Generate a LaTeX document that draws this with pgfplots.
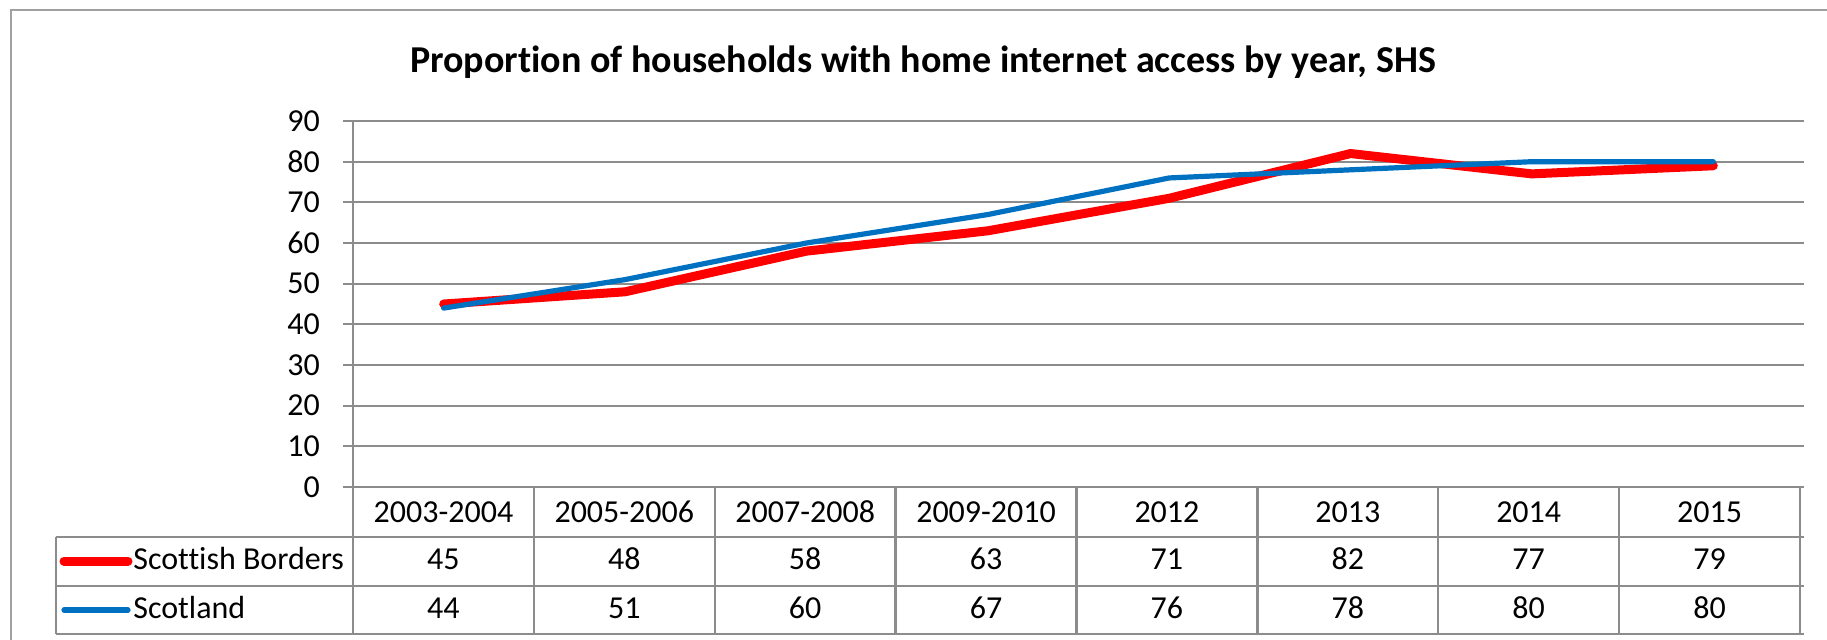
\documentclass[border=0pt]{standalone}
\usepackage{fontspec}
\setmainfont{Carlito}[Ligatures=NoCommon]
\usepackage{pgfplots}
\pgfplotsset{compat=1.18}
\definecolor{sbred}{HTML}{FF0000}
\definecolor{scblue}{HTML}{0070C0}
\definecolor{gridgray}{HTML}{8C8C8C}
\definecolor{framegray}{HTML}{A0A0A0}
\newcommand{\tabsize}{\fontsize{16}{19}\selectfont}

\begin{document}
\begin{tikzpicture}
\useasboundingbox (0,0) rectangle (913.5pt,319.5pt);
\begin{axis}[
  at={(176.5pt,76pt)}, anchor=south west,
  scale only axis, width=725.5pt, height=183pt,
  xmin=-0.5, xmax=7.5, ymin=0, ymax=90,
  ytick={0,10,...,90}, xtick=\empty,
  axis y line=left, axis x line=bottom,
  axis line style={gridgray, line width=1.2pt, -},
  ymajorgrids, grid style={gridgray, line width=1pt},
  y tick style={gridgray, line width=1pt},
  tick align=outside, major tick length=5pt,
  yticklabel style={font=\tabsize, xshift=-8pt},
  /pgf/number format/assume math mode=true,
  clip=false]
\addplot[sbred, line width=4.5pt, line join=round, line cap=round]
  coordinates {(0,45)(1,48)(2,58)(3,63)(4,71)(5,82)(6,77)(7,79)};
\addplot[scblue, line width=2.6pt, line join=round, line cap=round]
  coordinates {(0,44)(1,51)(2,60)(3,67)(4,76)(5,78)(6,80)(7,80)};
\end{axis}
\begin{scope}[x=0.5pt,y=-0.5pt,yshift=319.5pt]
  % outer frame
  \draw[framegray, line width=1pt] (11,10) rectangle (1840,660);
  % title
  \node[font=\bfseries\fontsize{19}{22}\selectfont, anchor=base, inner sep=0pt] at (923,72)
    {Proportion of households with home internet access by year, SHS};
  % table grid
  \foreach \k in {0,...,8} {
    \draw[gridgray, line width=1.2pt] ({353+180.875*\k},487) -- ({353+180.875*\k},634);
  }
  \draw[gridgray, line width=1.2pt] (56,537) -- (1804,537);
  \draw[gridgray, line width=1.2pt] (56,586) -- (1804,586);
  \draw[gridgray, line width=1.2pt] (56,634) -- (1804,634);
  \draw[gridgray, line width=1.2pt] (56,537) -- (56,634);
  % category labels
  \foreach \lab [count=\i from 0] in {2003-2004,2005-2006,2007-2008,2009-2010,2012,2013,2014,2015} {
    \node[font=\tabsize, anchor=base, inner sep=0pt] at ({353+180.875*(\i+0.5)},522) {\lab};
  }
  \foreach \v [count=\i from 0] in {45,48,58,63,71,82,77,79} {
    \node[font=\tabsize, anchor=base, inner sep=0pt] at ({353+180.875*(\i+0.5)},569) {\v};
  }
  \foreach \v [count=\i from 0] in {44,51,60,67,76,78,80,80} {
    \node[font=\tabsize, anchor=base, inner sep=0pt] at ({353+180.875*(\i+0.5)},618) {\v};
  }
  % legend keys
  \draw[sbred, line width=4.5pt, line cap=round] (64,561) -- (128,561);
  \draw[scblue, line width=2.6pt, line cap=round] (64,610) -- (128,610);
  \node[font=\tabsize, anchor=base west, inner sep=0pt] at (133,569) {Scottish Borders};
  \node[font=\tabsize, anchor=base west, inner sep=0pt] at (133,618) {Scotland};
\end{scope}
\end{tikzpicture}
\end{document}
